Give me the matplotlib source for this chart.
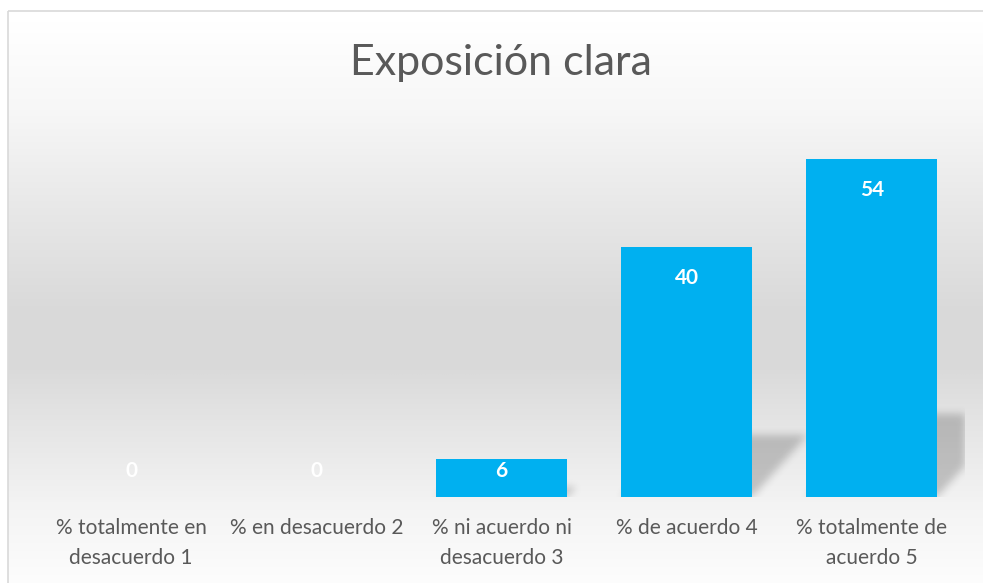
import numpy as np
import matplotlib
matplotlib.use("Agg")
import matplotlib.pyplot as plt
from matplotlib.patches import Rectangle

plt.rcParams['font.family'] = ['Lato', 'DejaVu Sans']

categories = ["% totalmente en\ndesacuerdo 1", "% en desacuerdo 2",
              "% ni acuerdo ni\ndesacuerdo 3", "% de acuerdo 4",
              "% totalmente de\nacuerdo 5"]
values = [0, 0, 6, 40, 54]
title = "Exposición clara"

W, H = 983, 583
fig = plt.figure(figsize=(W / 100, H / 100), dpi=100)

# background panel with a vertical grey gradient and a thin border
bg = fig.add_axes([0, 0, 1, 1], zorder=-1)
bg.set_xlim(0, W)
bg.set_ylim(H, 0)
bg.axis("off")
rows = np.arange(H)
stops_y = [0, 11, 100, 200, 300, 360, 400, 450, 500, 583]
stops_v = [255, 255, 247, 232, 218, 217, 225, 234, 243, 253]
shade = np.interp(rows, stops_y, stops_v) / 255.0
grad = np.repeat(shade[:, None], 4, axis=1)
img = np.dstack([grad, grad, grad])
bg.imshow(img, extent=(8, W + 5, H, 11), aspect="auto", interpolation="bilinear")
bg.add_patch(Rectangle((8, 11), W, H, fill=False, edgecolor="#d9d9d9", lw=1.2))

# plot area in pixels
left, right, base, top = 38.5, 964.5, 497, 121.4
ax = fig.add_axes([left / W, (H - base) / H, (right - left) / W, (base - top) / H])
ax.patch.set_alpha(0)
ymax = 60
ax.set_xlim(-0.5, len(values) - 0.5)
ax.set_ylim(0, ymax)

bar_w = 0.708
x = np.arange(len(values))

# soft perspective shadow behind the bars
nx, ny = int(right - left), int(base - top)
px_x = nx / len(values)
px_y = ny / ymax
xs = np.linspace(-0.5, len(values) - 0.5, nx)
ys = np.linspace(0, ymax, ny)
X, Y = np.meshgrid(xs, ys)
mask = np.zeros_like(X)
for xi, v in zip(x, values):
    if v <= 0:
        continue
    hd = 0.245 * v
    dxd = 0.22 * v * px_y / px_x
    shift = dxd * Y / hd
    m = (Y <= hd) & (X >= xi - bar_w / 2 + shift) & (X <= xi + bar_w / 2 + shift)
    mask = np.maximum(mask, m.astype(float))
k = np.arange(-12, 13)
kern = np.exp(-k ** 2 / (2 * 4.0 ** 2))
kern /= kern.sum()
mask = np.apply_along_axis(lambda r: np.convolve(r, kern, mode="same"), 1, mask)
mask = np.apply_along_axis(lambda c: np.convolve(c, kern, mode="same"), 0, mask)
shadow = np.zeros((ny, nx, 4))
shadow[..., 3] = 0.2 * mask
ax.imshow(shadow, origin="lower", extent=(-0.5, len(values) - 0.5, 0, ymax),
          aspect="auto", zorder=1, interpolation="bilinear")

ax.bar(x, values, width=bar_w, color="#00b0f0", zorder=2)

for xi, v in zip(x, values):
    ly = max(v - 31 / px_y, 26 / px_y)
    ax.text(xi, ly, str(v), ha="center", va="center", color="white",
            fontsize=15, fontweight="bold", zorder=3)

ax.set_xticks(x)
ax.set_xticklabels(categories, fontsize=15, color="#595959", linespacing=1.65)
ax.tick_params(axis="x", length=0, pad=15)
ax.set_yticks([])
for s in ax.spines.values():
    s.set_visible(False)

fig.text(501 / W, 1 - 63 / H, title, ha="center", va="center",
         fontsize=31, color="#595959")

fig.savefig("out.png", dpi=100)
